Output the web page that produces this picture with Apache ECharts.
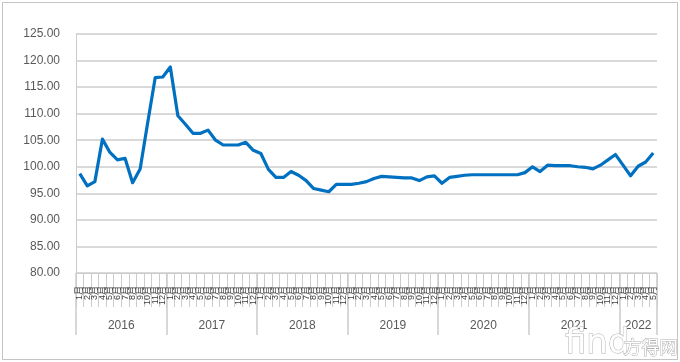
<!DOCTYPE html>
<html>
<head>
<meta charset="utf-8">
<script src="https://cdn.jsdelivr.net/npm/echarts@6/dist/echarts.min.js"></script>
<style>
html,body{margin:0;padding:0;background:#fff;}
#c{width:680px;height:362px;}
</style>
</head>
<body>
<div id="c"></div>
<script>
// ---- data ----
const years = ['2016', '2017', '2018', '2019', '2020', '2021', '2022'];
const monthsInYear = [12, 12, 12, 12, 12, 12, 5];
const yTicks = [80, 85, 90, 95, 100, 105, 110, 115, 120, 125];
const values = [
  98.7, 96.4, 97.2, 105.2, 102.7, 101.3, 101.6, 97.0, 99.6, 108.3, 116.8, 116.9,
  118.8, 109.6, 108.0, 106.3, 106.3, 106.9, 105.0, 104.1, 104.1, 104.1, 104.6, 103.1,
  102.5, 99.5, 98.0, 98.0, 99.1, 98.4, 97.4, 95.9, 95.6, 95.3, 96.7, 96.7,
  96.7, 96.9, 97.2, 97.8, 98.2, 98.1, 98.0, 97.9, 97.9, 97.4, 98.1, 98.3,
  96.9, 98.0, 98.2, 98.4, 98.5, 98.5, 98.5, 98.5, 98.5, 98.5, 98.5, 98.9,
  100.0, 99.1, 100.3, 100.2, 100.2, 100.2, 100.0, 99.9, 99.6, 100.3, 101.3, 102.3,
  100.3, 98.3, 100.1, 100.9, 102.6
];

// ---- derived categories ----
const monthLabels = [];
const yearBounds = [0];
const yearMids = [];
years.forEach((y, i) => {
  for (let m = 1; m <= monthsInYear[i]; m++) monthLabels.push(m + '月');
  const start = yearBounds[yearBounds.length - 1];
  const end = start + monthsInYear[i];
  yearMids.push((start + end) / 2);
  yearBounds.push(end);
});
const total = monthLabels.length;

const grayLine = '#cccccc';
const textCol = '#595959';
const chart = echarts.init(document.getElementById('c'));
chart.setOption({
  animation: false,
  backgroundColor: '#fff',
  grid: { left: 76, right: 23, top: 34, bottom: 89, containLabel: false },
  xAxis: [
    {
      type: 'category',
      data: monthLabels,
      boundaryGap: true,
      position: 'bottom',
      axisLine: { show: true, lineStyle: { color: grayLine, width: 1 } },
      axisTick: { show: true, interval: 0, length: 34, lineStyle: { color: grayLine, width: 1 } },
      axisLabel: {
        interval: 0, rotate: 90, margin: 13,
        fontSize: 9, color: '#404040',
        fontFamily: '"Liberation Sans", "Noto Sans CJK SC", sans-serif'
      },
      splitLine: { show: false }
    },
    {
      type: 'value',
      min: 0, max: total,
      position: 'bottom',
      axisLine: { show: false },
      axisTick: { show: true, customValues: yearBounds, length: 62, lineStyle: { color: grayLine, width: 1.5 } },
      axisLabel: {
        customValues: yearMids, margin: 47,
        fontSize: 12, color: textCol,
        fontFamily: '"Liberation Sans", sans-serif',
        formatter: (v) => {
          const idx = yearMids.findIndex(m => Math.abs(m - v) < 0.01);
          return idx >= 0 ? years[idx] : '';
        }
      },
      splitLine: { show: false }
    }
  ],
  yAxis: {
    type: 'value',
    min: yTicks[0], max: yTicks[yTicks.length - 1], interval: yTicks[1] - yTicks[0],
    axisLine: { show: true, lineStyle: { color: grayLine, width: 1 } },
    axisTick: { show: false },
    axisLabel: {
      margin: 16, fontSize: 12, color: textCol,
      fontFamily: '"Liberation Sans", sans-serif',
      formatter: (v) => v.toFixed(2)
    },
    splitLine: { show: true, lineStyle: { color: grayLine, width: 1.5 } }
  },
  series: [{
    type: 'line',
    data: values,
    xAxisIndex: 0,
    showSymbol: false,
    symbol: 'none',
    smooth: false,
    lineStyle: { color: '#0070c0', width: 3.2, join: 'round' },
    z: 5
  }],
  graphic: [
    {
      type: 'rect', silent: true, z: -1,
      shape: { x: 2.5, y: 2.5, width: 675, height: 357 },
      style: { fill: 'none', stroke: '#c4c4c4', lineWidth: 1 }
    },
    {
      type: 'text', right: 50, bottom: 0, z: 10,
      style: { text: 'find', font: '34px "DejaVu Sans", sans-serif', fill: '#ffffff', stroke: '#b0b0b0', lineWidth: 1 }
    },
    {
      type: 'text', right: 2, bottom: 5, z: 10,
      style: { text: '方得网', font: '18px "Noto Sans CJK SC", sans-serif', fill: '#ffffff', stroke: '#b0b0b0', lineWidth: 1 }
    }
  ]
});
</script>
</body>
</html>
